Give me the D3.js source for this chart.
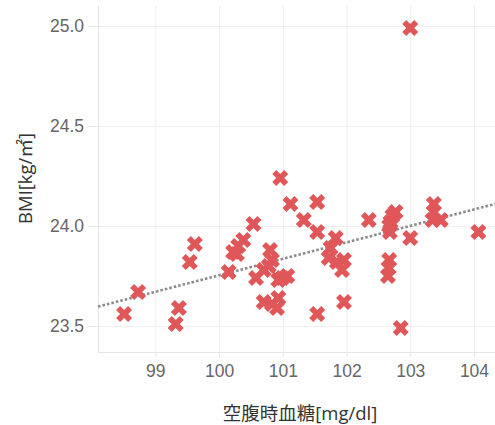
<!DOCTYPE html>
<html>
<head>
<meta charset="utf-8">
<script src="https://cdn.jsdelivr.net/npm/d3@7"></script>
<style>
  body { margin: 0; background: #fff; }
  svg { font-family: "Open Sans", "Noto Sans CJK JP", sans-serif; }
  .axis path, .axis line { stroke: #e6e6e6; }
  .axis text { fill: #666; font-size: 17.5px; }
  .grid line { stroke: #efefef; }
  .grid path { display: none; }
  .title { fill: #333; font-size: 18.5px; }
</style>
</head>
<body>
<svg width="495" height="425"></svg>
<script>
  // fasting blood sugar (mg/dl) vs BMI
  const glucose = [
    98.51, 98.73, 99.32, 99.37, 99.54, 99.62, 100.15, 100.22, 100.3, 100.38,
    100.28, 100.54, 100.58, 100.8, 100.7, 100.78, 100.83, 100.99, 101.07, 100.93,
    100.7, 100.83, 100.91, 100.93, 100.96, 101.12, 101.54, 101.33, 101.54, 101.54,
    101.83, 101.75, 101.72, 101.85, 101.96, 101.93, 101.96, 102.35, 102.69, 102.77,
    102.72, 102.68, 102.67, 102.67, 102.66, 102.65, 103.0, 102.85, 103.37, 103.37,
    103.35, 103.48, 104.07, 103.0
  ];
  const bmi = [
    23.56, 23.67, 23.51, 23.59, 23.82, 23.91, 23.77, 23.87, 23.9, 23.93,
    23.86, 24.01, 23.74, 23.88, 23.78, 23.8, 23.83, 23.74, 23.75, 23.73,
    23.62, 23.61, 23.59, 23.64, 24.24, 24.11, 24.12, 24.03, 23.97, 23.56,
    23.94, 23.89, 23.84, 23.82, 23.83, 23.78, 23.62, 24.03, 24.02, 24.07,
    24.05, 23.97, 24.0, 23.83, 23.79, 23.75, 23.94, 23.49, 24.11, 24.07,
    24.03, 24.03, 23.97, 24.99
  ];
  const xTicks = [99, 100, 101, 102, 103, 104];
  const yTicks = [23.5, 24.0, 24.5, 25.0];
  const trendX = [98.1, 104.33];
  const trendY = [23.597, 24.11];

  const svg = d3.select('svg');
  const mLeft = 98, mRight = 495, mTop = 5, mBottom = 352;

  const xScale = d3.scaleLinear()
    .domain([98.1, 104.33])
    .range([mLeft, mRight]);

  const yScale = d3.scaleLinear()
    .domain([23.37, 25.105])
    .range([mBottom, mTop]);

  // grid
  svg.append('g')
    .attr('class', 'grid')
    .attr('transform', `translate(0, ${mBottom})`)
    .call(d3.axisBottom(xScale).tickValues(xTicks).tickSize(-(mBottom - mTop)).tickFormat(''));

  svg.append('g')
    .attr('class', 'grid')
    .attr('transform', `translate(${mLeft}, 0)`)
    .call(d3.axisLeft(yScale).tickValues(yTicks).tickSize(-(mRight - mLeft)).tickFormat(''));

  // axes
  svg.append('g')
    .attr('class', 'axis')
    .attr('transform', `translate(0, ${mBottom})`)
    .call(d3.axisBottom(xScale).tickValues(xTicks).tickSize(5).tickSizeOuter(0).tickPadding(8)
      .tickFormat(d3.format('d')));

  svg.append('g')
    .attr('class', 'axis')
    .attr('transform', `translate(${mLeft}, 0)`)
    .call(d3.axisLeft(yScale).tickValues(yTicks).tickSize(10).tickSizeOuter(0).tickPadding(4)
      .tickFormat(d3.format('.1f')));

  // trend line
  const points = trendX.map((x, i) => [x, trendY[i]]);
  svg.append('path')
    .datum(points)
    .attr('d', d3.line().x(d => xScale(d[0])).y(d => yScale(d[1])))
    .attr('fill', 'none')
    .attr('stroke', '#8c8c8c')
    .attr('stroke-width', 2.6)
    .attr('stroke-dasharray', '2.6,2');

  // markers
  const cross = d3.symbol().type(d3.symbolCross).size(160);
  svg.append('g')
    .selectAll('path')
    .data(glucose)
    .join('path')
    .attr('d', cross)
    .attr('transform', (d, i) => `translate(${xScale(d)}, ${yScale(bmi[i])}) rotate(45)`)
    .attr('fill', '#e05759');

  // labels
  svg.append('text')
    .attr('class', 'title')
    .attr('transform', `translate(32, ${(mTop + mBottom) / 2}) rotate(-90)`)
    .attr('text-anchor', 'middle')
    .text('BMI[kg/㎡]');

  svg.append('text')
    .attr('class', 'title')
    .attr('x', 300)
    .attr('y', 420)
    .attr('text-anchor', 'middle')
    .text('空腹時血糖[mg/dl]');
</script>
</body>
</html>
